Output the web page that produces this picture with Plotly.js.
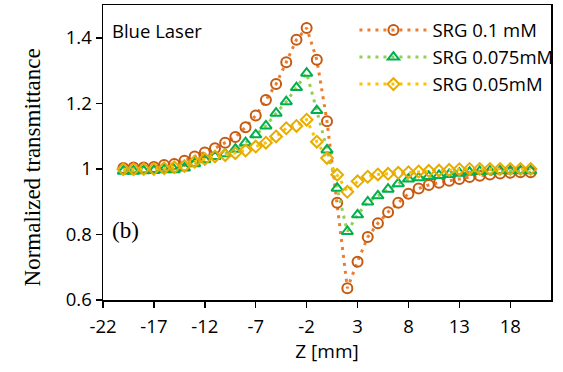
<!DOCTYPE html>
<html>
<head>
<meta charset="utf-8">
<script src="https://cdn.plot.ly/plotly-3.0.1.min.js"></script>
<style>html,body{margin:0;padding:0;background:#fff;}#chart{width:563px;height:372px;}</style>
</head>
<body>
<div id="chart"></div>
<script>
const zPos = [-20,-19,-18,-17,-16,-15,-14,-13,-12,-11,-10,-9,-8,-7,-6,-5,-4,-3,-2,-1,0,1,2,3,4,5,6,7,8,9,10,11,12,13,14,15,16,17,18,19,20];
const srg01 = [1.003,1.004,1.004,1.006,1.012,1.015,1.025,1.038,1.05,1.063,1.08,1.097,1.127,1.163,1.21,1.259,1.325,1.394,1.43,1.333,1.145,0.897,0.636,0.717,0.792,0.834,0.868,0.897,0.924,0.94,0.951,0.958,0.964,0.969,0.975,0.979,0.983,0.986,0.988,0.99,0.99];
const srg0075 = [0.993,0.993,0.994,0.995,0.997,0.997,1.003,1.016,1.028,1.038,1.046,1.06,1.08,1.104,1.131,1.17,1.205,1.248,1.292,1.178,1.058,0.941,0.809,0.86,0.899,0.918,0.938,0.955,0.969,0.973,0.977,0.98,0.983,0.987,0.99,0.992,0.993,0.994,0.994,0.994,0.994];
const srg005 = [0.999,0.999,1.0,1.0,1.002,1.005,1.009,1.022,1.03,1.038,1.042,1.048,1.056,1.068,1.08,1.099,1.124,1.131,1.15,1.083,1.033,0.982,0.93,0.962,0.976,0.983,0.985,0.988,0.99,0.992,0.994,0.995,0.997,0.999,1.0,1.0,1.0,1.0,1.0,1.0,1.0];
const seriesNames = ['SRG 0.1 mM','SRG 0.075mM','SRG 0.05mM'];
const xTicks = [-22,-17,-12,-7,-2,3,8,13,18];
const yTicks = [0.6,0.8,1,1.2,1.4];
const yTickText = ['0.6','0.8','1','1.2','1.4'];

const sans = '"Open Sans", Lato, sans-serif';
const serif = '"Liberation Serif", "DejaVu Serif", serif';

const traces = [
  {x: zPos, y: srg01, name: seriesNames[0], legendgroup: 'a', type: 'scatter', mode: 'lines+markers',
   line: {color: '#ED7D31', width: 3, dash: '3px,5px'},
   marker: {symbol: 'circle-open', size: 10, color: '#C55A11', line: {width: 2, color: '#C55A11'}}},
  {x: zPos, y: srg0075, name: seriesNames[1], legendgroup: 'b', type: 'scatter', mode: 'lines+markers',
   line: {color: '#92D050', width: 3, dash: '3px,5px'},
   marker: {symbol: 'triangle-up-open', size: 10, color: '#00B050', line: {width: 2, color: '#00B050'}}},
  {x: zPos, y: srg005, name: seriesNames[2], legendgroup: 'c', type: 'scatter', mode: 'lines+markers',
   line: {color: '#FFC000', width: 3, dash: '3px,5px'},
   marker: {symbol: 'diamond-open', size: 9, color: '#E6AC00', line: {width: 2, color: '#E6AC00'}}}
];

const layout = {
  width: 563, height: 372,
  margin: {l: 103, r: 11, t: 5, b: 72},
  paper_bgcolor: '#fff', plot_bgcolor: '#fff',
  showlegend: true,
  legend: {x: 0.56, xanchor: 'left', y: 0.978, yanchor: 'top', bgcolor: 'rgba(0,0,0,0)',
           font: {family: sans, size: 18.5, color: '#000'}, tracegroupgap: 0, itemwidth: 68},
  xaxis: {range: [-22, 22], tickvals: xTicks, ticktext: xTicks.map(String),
          showgrid: false, zeroline: false, showline: true, linecolor: '#000', linewidth: 1.5,
          mirror: true, ticks: 'outside', ticklen: 6, tickcolor: '#000', tickwidth: 1.5,
          ticklabelstandoff: 3,
          tickfont: {family: sans, size: 18.5, color: '#000'},
          title: {text: 'Z [mm]', font: {family: sans, size: 19, color: '#000'}, standoff: 1}},
  yaxis: {range: [0.6, 1.5], tickvals: yTicks, ticktext: yTickText,
          showgrid: false, zeroline: false, showline: true, linecolor: '#000', linewidth: 1.5,
          mirror: true, ticks: 'outside', ticklen: 6, tickcolor: '#000', tickwidth: 1.5,
          tickfont: {family: sans, size: 18.5, color: '#000'}},
  annotations: [
    {text: 'Normalized transmittance', xref: 'paper', yref: 'paper', x: -0.158, y: 0.45,
     xanchor: 'center', yanchor: 'middle', textangle: -90, showarrow: false,
     font: {family: serif, size: 23, color: '#000'}},
    {text: 'Blue Laser', xref: 'paper', yref: 'paper', x: 0.015, y: 0.915, xanchor: 'left', yanchor: 'middle',
     showarrow: false, font: {family: sans, size: 18.5, color: '#000'}},
    {text: '(b)', xref: 'paper', yref: 'paper', x: 0.015, y: 0.234, xanchor: 'left', yanchor: 'middle',
     showarrow: false, font: {family: serif, size: 23, color: '#000'}}
  ]
};

Plotly.newPlot('chart', traces, layout, {displayModeBar: false, staticPlot: true});
</script>
</body>
</html>
